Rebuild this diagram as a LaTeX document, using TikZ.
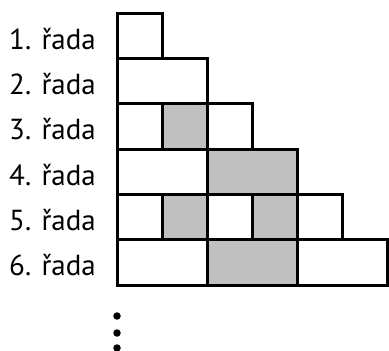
\documentclass[tikz,border=0pt]{standalone}
\usepackage{fontspec}
\setmainfont{PT Sans}
\definecolor{cellgray}{HTML}{C0C0C0}
\begin{document}
\begin{tikzpicture}[x=1pt,y=-1pt,
  cell/.style={draw=black,line width=3pt,fill=white},
  gcell/.style={draw=black,line width=3pt,fill=cellgray},
  lbl/.style={anchor=base east,inner sep=0pt,font=\fontsize{29}{33}\selectfont},
  dotm/.style={circle,fill=black,inner sep=0pt,minimum size=7.5pt}]
\useasboundingbox (0,0) rectangle (389,351);
% row 1
\draw[cell] (117,13) rectangle (162,58.33);
% row 2
\draw[cell] (117,58.33) rectangle (207,103.67);
% row 3
\draw[cell] (117,103.67) rectangle (162,149);
\draw[gcell] (162,103.67) rectangle (207,149);
\draw[cell] (207,103.67) rectangle (252,149);
% row 4
\draw[cell] (117,149) rectangle (207,194.33);
\draw[gcell] (207,149) rectangle (297,194.33);
% row 5
\draw[cell] (117,194.33) rectangle (162,239.67);
\draw[gcell] (162,194.33) rectangle (207,239.67);
\draw[cell] (207,194.33) rectangle (252,239.67);
\draw[gcell] (252,194.33) rectangle (297,239.67);
\draw[cell] (297,194.33) rectangle (342,239.67);
% row 6
\draw[cell] (117,239.67) rectangle (207,285);
\draw[gcell] (207,239.67) rectangle (297,285);
\draw[cell] (297,239.67) rectangle (387,285);
% labels
\node[lbl] (l1) at (96,49) {1. řada};
\node[lbl] (l2) at (96,94.33) {2. řada};
\node[lbl] (l3) at (96,139.67) {3. řada};
\node[lbl] (l4) at (96,185) {4. řada};
\node[lbl] (l5) at (96,230.33) {5. řada};
\node[lbl] (l6) at (96,275.67) {6. řada};
% dots
\node[dotm] (d1) at (117,316) {};
\node[dotm] (d2) at (117,333) {};
\node[dotm] (d3) at (117,348) {};
\end{tikzpicture}
\end{document}
